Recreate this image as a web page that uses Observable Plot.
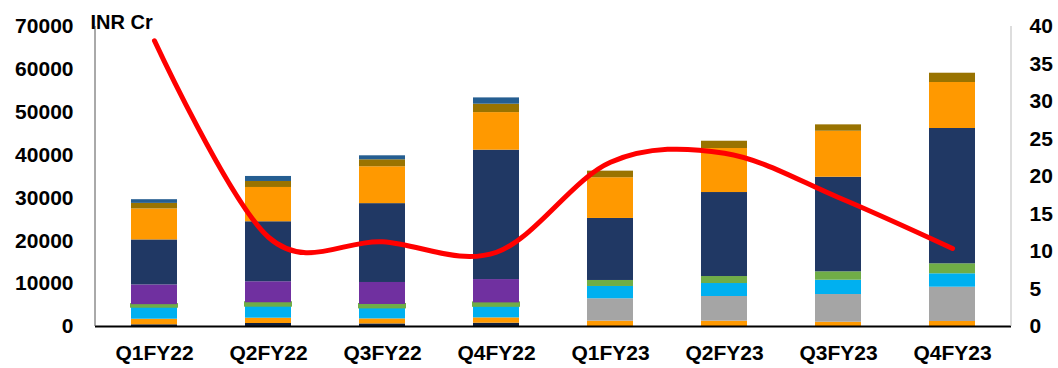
<!DOCTYPE html>
<html>
<head>
<meta charset="utf-8">
<script src="https://cdn.jsdelivr.net/npm/d3@7"></script>
<script src="https://cdn.jsdelivr.net/npm/@observablehq/plot@0.6"></script>
<style>
  html, body { margin: 0; padding: 0; background: #fff; }
  #chart svg { display: block; }
</style>
</head>
<body>
<div id="chart"></div>
<script>
// ---- data ----
const categories = ["Q1FY22","Q2FY22","Q3FY22","Q4FY22","Q1FY23","Q2FY23","Q3FY23","Q4FY23"];
// stacked segments, bottom to top
const seriesNames = ["Seg 1","Seg 2","Seg 3","Seg 4","Seg 5","Seg 6","Seg 7","Seg 8","Seg 9","Seg 10"];
const seg1  = [400, 700, 600, 770, 0, 0, 0, 0];
const seg2  = [1300, 1240, 1170, 1240, 1240, 1240, 1000, 1170];
const seg3  = [0, 0, 0, 0, 5230, 5760, 6460, 8000];
const seg4  = [2800, 2800, 2570, 2700, 2870, 3030, 3340, 3130];
const seg5  = [600, 800, 800, 800, 1400, 1630, 1960, 2330];
const seg6  = [4600, 4900, 5130, 5440, 0, 0, 0, 0];
const seg7  = [10500, 14000, 18400, 30190, 14470, 19600, 22070, 31570];
const seg8  = [7230, 8000, 8600, 8770, 9500, 10270, 10730, 10730];
const seg9  = [1300, 1400, 1630, 1960, 1540, 1700, 1490, 2170];
const seg10 = [860, 1170, 930, 1470, 0, 0, 0, 0];
// red line, right axis
const lineValues = [38.1, 11.9, 11.3, 9.9, 21.9, 23.1, 17.2, 10.4];
const leftTicks = [0, 10000, 20000, 30000, 40000, 50000, 60000, 70000];
const rightTicks = [0, 5, 10, 15, 20, 25, 30, 35, 40];
const unitLabel = ["INR Cr"];

// ---- styling / scales ----
const seriesColors = ["#101e3a","#ff9900","#a5a5a5","#00b0f0","#70ad47","#7030a0","#203864","#ff9900","#997300","#255e91"];
const yMax = 70000, rMax = 40, k = yMax / rMax;

const segs = [seg1, seg2, seg3, seg4, seg5, seg6, seg7, seg8, seg9, seg10];
const stacked = [];
segs.forEach((arr, si) => arr.forEach((v, ci) => stacked.push({cat: categories[ci], series: seriesNames[si], value: v})));
const lineData = categories.map((c, i) => ({cat: c, v: lineValues[i] * k}));

const font = "'Liberation Sans', Arial, sans-serif";

const chart = Plot.plot({
  width: 1058,
  height: 368,
  marginLeft: 95,
  marginRight: 47,
  marginTop: 26,
  marginBottom: 42,
  style: {fontFamily: font, color: "#000", background: "#fff"},
  x: {domain: categories, paddingInner: 0.6, paddingOuter: 0.3, axis: null},
  y: {domain: [0, yMax], axis: null},
  color: {domain: seriesNames, range: seriesColors},
  marks: [
    Plot.barY(stacked, {
      x: "cat", y: "value", fill: "series", order: null,
      stroke: d => (d.series === "Seg 5" && d.value < 1000) ? "#70ad47" : "none",
      strokeWidth: 2
    }),
    Plot.line(lineData, {x: "cat", y: "v", stroke: "#ff0000", strokeWidth: 5, curve: "cardinal", tension: 0}),
    Plot.ruleY([0], {stroke: "#000", strokeWidth: 2}),
    // left axis line
    () => {
      const g = d3.create("svg:g");
      g.append("line").attr("x1", 95).attr("x2", 95).attr("y1", 26).attr("y2", 326).attr("stroke", "#555").attr("stroke-width", 1);
      g.append("line").attr("x1", 1011).attr("x2", 1011).attr("y1", 26).attr("y2", 326).attr("stroke", "#bbb").attr("stroke-width", 1);
      return g.node();
    },
    Plot.axisY(leftTicks, {anchor: "left", tickSize: 0, tickPadding: 22, tickFormat: d => String(d), fontSize: 21, fontWeight: "bold"}),
    Plot.axisY(rightTicks.map(d => d * k), {anchor: "right", tickSize: 0, tickPadding: 18, tickFormat: d => String(Math.round(d / k)), fontSize: 21, fontWeight: "bold"}),
    Plot.axisX({tickSize: 0, tickPadding: 19, fontSize: 21, fontWeight: "bold", label: null}),
    Plot.text(unitLabel, {frameAnchor: "top-left", textAnchor: "start", lineAnchor: "bottom", dx: -5, dy: 2, fontSize: 20, fontWeight: "bold", fill: "#000"})
  ]
});
document.getElementById("chart").appendChild(chart);
</script>
</body>
</html>
